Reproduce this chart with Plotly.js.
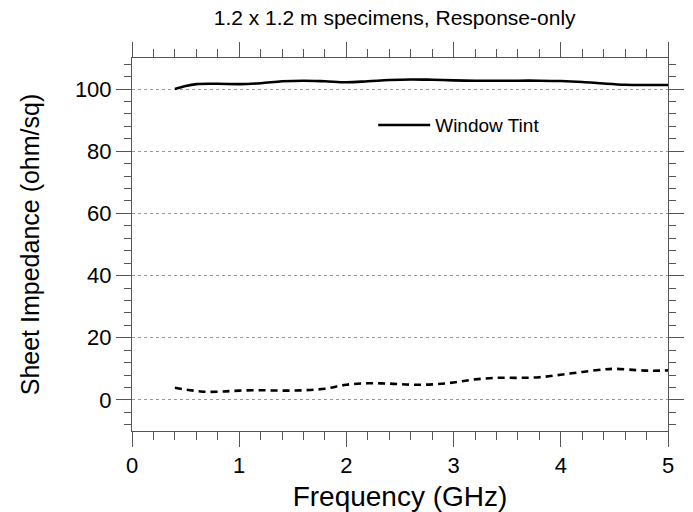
<!DOCTYPE html>
<html>
<head>
<meta charset="utf-8">
<script src="https://cdn.plot.ly/plotly-3.0.1.min.js"></script>
<style>html,body{margin:0;padding:0;background:#fff;}#chart{width:693px;height:512px;}</style>
</head>
<body>
<div id="chart"></div>
<script>
// Window Tint (solid) – sheet impedance vs frequency
const tintFreq = [0.4, 0.5, 0.6, 0.8, 1.0, 1.2, 1.4, 1.6, 1.8, 2.0, 2.2, 2.4, 2.6, 2.8, 3.0, 3.2, 3.4, 3.6, 3.8, 4.0, 4.2, 4.4, 4.6, 4.8, 5.0];
const tintImp  = [100.0, 101.0, 101.6, 101.7, 101.6, 101.9, 102.5, 102.7, 102.5, 102.2, 102.5, 102.9, 103.1, 103.0, 102.8, 102.7, 102.7, 102.7, 102.7, 102.6, 102.3, 101.8, 101.4, 101.3, 101.3];
// Second specimen (dashed, no legend entry)
const dashFreq = [0.4, 0.5, 0.6, 0.7, 0.85, 1.0, 1.2, 1.4, 1.6, 1.8, 2.0, 2.2, 2.4, 2.6, 2.8, 3.0, 3.2, 3.4, 3.6, 3.8, 4.0, 4.2, 4.4, 4.5, 4.7, 4.85, 5.0];
const dashImp  = [3.9, 3.3, 2.9, 2.6, 2.7, 3.0, 3.1, 3.0, 3.1, 3.6, 4.9, 5.35, 5.25, 4.9, 5.0, 5.6, 6.6, 7.1, 7.1, 7.3, 8.1, 9.0, 9.8, 10.0, 9.6, 9.4, 9.5];

const xTickVals = [0, 1, 2, 3, 4, 5];
const yTickVals = [0, 20, 40, 60, 80, 100];

const FONT = 'Liberation Sans, Arial, Helvetica, sans-serif';
const AX = '#555';

const traces = [
  {x: tintFreq, y: tintImp, type: 'scatter', mode: 'lines', name: 'Window Tint',
   line: {color: '#000', width: 2.6, shape: 'spline', smoothing: 1}},
  {x: dashFreq, y: dashImp, type: 'scatter', mode: 'lines', name: 'dashed', showlegend: false,
   line: {color: '#000', width: 2.6, dash: '7px,5px', shape: 'spline', smoothing: 1}}
];

const layout = {
  width: 693, height: 512,
  margin: {l: 132, r: 25, t: 58, b: 81},
  paper_bgcolor: '#fff', plot_bgcolor: '#fff',
  font: {family: FONT, color: '#000'},
  title: {text: '1.2 x 1.2 m specimens, Response-only', font: {size: 21, family: FONT, color: '#000'},
          xref: 'paper', x: 0.49, xanchor: 'center', y: 0.965, yanchor: 'middle'},
  showlegend: true,
  legend: {x: 0.45, y: 0.82, xanchor: 'left', yanchor: 'middle', bgcolor: 'rgba(0,0,0,0)',
           itemwidth: 52,
           font: {size: 19, family: FONT, color: '#000'}},
  xaxis: {
    range: [0, 5], tickvals: xTickVals, ticktext: xTickVals.map(String),
    ticks: 'outside', ticklen: 15, tickcolor: AX, tickwidth: 1,
    showline: true, linecolor: AX, linewidth: 1, mirror: 'ticks',
    showgrid: false, zeroline: false,
    tickfont: {size: 22, family: FONT, color: '#000'},
    minor: {dtick: 0.2, ticks: 'outside', ticklen: 8, tickcolor: AX, showgrid: false},
    title: {text: 'Frequency (GHz)', font: {size: 28, family: FONT, color: '#000'}, standoff: 8}
  },
  yaxis: {
    range: [-10, 110], tickvals: yTickVals, ticktext: yTickVals.map(String),
    ticks: 'outside', ticklen: 15, tickcolor: AX, tickwidth: 1,
    showline: true, linecolor: AX, linewidth: 1, mirror: 'ticks',
    showgrid: true, gridcolor: '#999', griddash: 'dot', gridwidth: 1, zeroline: false,
    tickfont: {size: 22, family: FONT, color: '#000'},
    minor: {dtick: 4, tick0: 0, ticks: 'outside', ticklen: 7, tickcolor: AX, showgrid: false},
    title: {text: 'Sheet Impedance (ohm/sq)', font: {size: 25, family: FONT, color: '#000'}, standoff: 28}
  }
};

Plotly.newPlot('chart', traces, layout, {displayModeBar: false, staticPlot: true});
</script>
</body>
</html>
